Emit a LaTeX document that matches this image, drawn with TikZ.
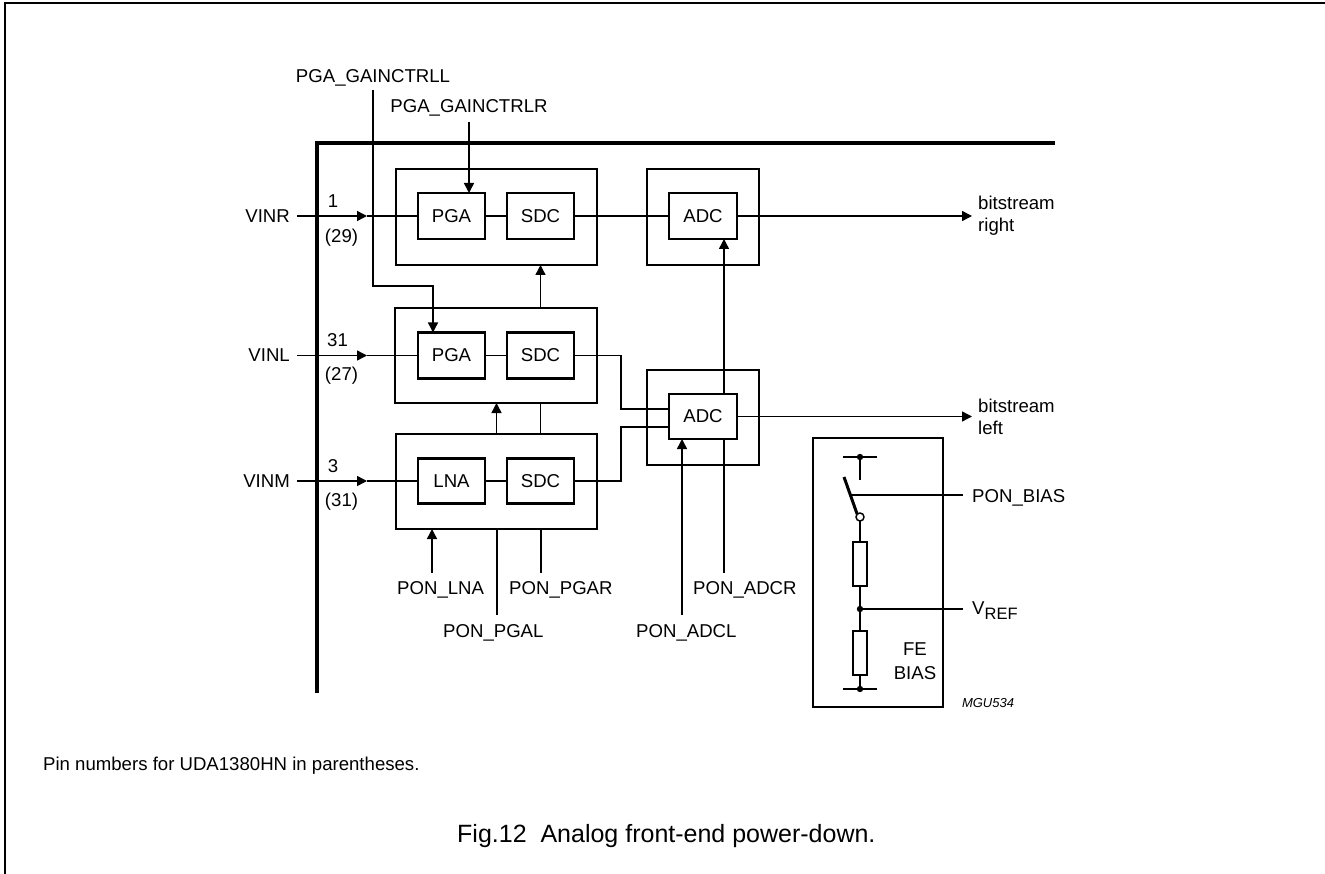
\documentclass[tikz,border=0pt]{standalone}
\usepackage{fontspec}
\setmainfont{Liberation Sans}
\usetikzlibrary{arrows.meta,calc}
\newcommand\lblfont{\fontsize{18.6}{22}\selectfont}
\tikzset{
 sig/.style={line width=1.45pt},
 arr/.style={-{Triangle[length=10pt,width=10pt]}},
 blk/.style={draw,line width=2.5pt,inner sep=0pt,outer sep=0pt,minimum width=67pt,minimum height=46pt,font=\lblfont,fill=white},
 grp/.style={draw,line width=2.5pt,inner sep=0pt,outer sep=0pt},
 lbl/.style={inner sep=0pt,font=\lblfont},
 res/.style={draw,line width=1.45pt,minimum width=14pt,minimum height=44pt,inner sep=0pt,outer sep=0pt},
}
\begin{document}
\begin{tikzpicture}[x=1pt,y=-1pt]
\useasboundingbox (0,0) rectangle (1325,874);
% page frame
\draw[line width=2pt] (5,874) -- (5,3) -- (1325,3);
% chip outline
\draw[line width=3.2pt] (317,693) -- (317,143) -- (1055,143);
% group boxes
\node[grp,minimum width=201pt,minimum height=96pt] (grpR) at (496.5,217) {};
\node[grp,minimum width=202pt,minimum height=95pt] (grpL) at (496,355.5) {};
\node[grp,minimum width=201pt,minimum height=95pt] (grpM) at (496.5,481.5) {};
\node[grp,minimum width=112pt,minimum height=96pt] (adcRo) at (703,217) {};
\node[grp,minimum width=112pt,minimum height=95pt] (adcLo) at (703,417.5) {};
\node[grp,minimum width=130pt,minimum height=269pt] (fe) at (878,572.5) {};
% blocks
\node[blk] (pgaR) at (451.5,216) {PGA};
\node[blk] (sdcR) at (540.5,216) {SDC};
\node[blk,minimum width=68pt] (adcR) at (703,216) {ADC};
\node[blk] (pgaL) at (451.5,355.5) {PGA};
\node[blk] (sdcL) at (540.5,355.5) {SDC};
\node[blk,minimum height=45pt] (lna) at (451.5,481) {LNA};
\node[blk,minimum height=45pt] (sdcM) at (540.5,481) {SDC};
\node[blk,minimum width=68pt,minimum height=45pt] (adcL) at (703,416.5) {ADC};
% inputs
\node[lbl,anchor=base east] (vinr) at (290,223) {VINR};
\node[lbl,anchor=base east] (vinl) at (290,362) {VINL};
\node[lbl,anchor=base east] (vinm) at (290,487) {VINM};
\node[lbl,anchor=base] (n1) at (333,208) {1};
\node[lbl,anchor=base] (n29) at (341.5,243) {(29)};
\node[lbl,anchor=base] (n31) at (337.5,347) {31};
\node[lbl,anchor=base] (n27) at (341.5,381) {(27)};
\node[lbl,anchor=base] (n3) at (333,472) {3};
\node[lbl,anchor=base] (n31b) at (341.5,506) {(31)};
\coordinate (aR) at (367,216);
\coordinate (aL) at (367,355.5);
\coordinate (aM) at (367,481);
\draw[sig,arr,shorten <=7pt] (vinr.east |- aR) -- (aR);
\draw[sig] (aR) -- (pgaR.west);
\draw[sig,arr,shorten <=7pt] (vinl.east |- aL) -- (aL);
\draw[sig] (aL) -- (pgaL.west);
\draw[sig,arr,shorten <=7pt] (vinm.east |- aM) -- (aM);
\draw[sig] (aM) -- (lna.west);
% internal chains
\draw[sig] (pgaR) -- (sdcR);
\draw[sig] (sdcR) -- (adcR);
\draw[sig] (pgaL) -- (sdcL);
\draw[sig] (lna) -- (sdcM);
% gain controls
\node[lbl,anchor=base] (gcl) at (373,83) {PGA\_GAINCTRLL};
\node[lbl,anchor=base] (gcr) at (469,113) {PGA\_GAINCTRLR};
\coordinate (gclBend) at (373,286);
\coordinate (gclDrop) at (433,286);
\draw[sig,arr,shorten <=3pt] (gcl.south) -- (gclBend) -- (gclDrop) -- (gclDrop |- pgaL.north);
\draw[sig,arr,shorten <=5pt] (gcr.south) -- (gcr.south |- pgaR.north);
% between groups
\draw[sig,arr] (sdcL.north |- grpL.north) -- (sdcL.north |- grpR.south);
\draw[sig,arr] (grpM.north) -- (grpM.north |- grpL.south);
\draw[sig] (sdcM.north |- grpM.north) -- (sdcM.north |- grpL.south);
% SDC to lower ADC
\coordinate (jL) at (621,409);
\coordinate (jM) at (621,427);
\draw[sig] (sdcL.east) -| (jL) -- (jL -| adcL.west);
\draw[sig] (sdcM.east) -| (jM) -- (jM -| adcL.west);
% power-down inputs
\node[lbl,anchor=base west] (plna) at (397,594) {PON\_LNA};
\node[lbl,anchor=base west] (ppgar) at (509,594) {PON\_PGAR};
\node[lbl,anchor=base west] (ppgal) at (443,637) {PON\_PGAL};
\node[lbl,anchor=base west] (padcl) at (636,637) {PON\_ADCL};
\node[lbl,anchor=base west] (padcr) at (693,594) {PON\_ADCR};
\coordinate (lnaIn) at (432,573);
\coordinate (pgalEnd) at (497,615);
\coordinate (pgarEnd) at (541,573);
\coordinate (adclIn) at (682,615);
\coordinate (adcrIn) at (724,573);
\draw[sig,arr] (lnaIn) -- (lnaIn |- grpM.south);
\draw[sig] (pgalEnd |- grpM.south) -- (pgalEnd);
\draw[sig] (pgarEnd |- grpM.south) -- (pgarEnd);
\draw[sig,arr] (adclIn) -- (adclIn |- adcL.south);
\draw[sig] (adcrIn) -- (adcrIn |- adcL.south);
\draw[sig,arr] (adcrIn |- adcL.north) -- (adcrIn |- adcR.south);
% outputs
\node[lbl,anchor=west,align=left] (brt) at (978,216) {bitstream\\right};
\node[lbl,anchor=west,align=left] (blt) at (978,416.5) {bitstream\\left};
\draw[sig,arr,shorten >=6pt] (adcR.east) -- (adcR.east -| brt.west);
\draw[sig,arr,shorten >=6pt] (adcL.east) -- (adcL.east -| blt.west);
% FE bias
\coordinate (tTop) at (860,457);
\coordinate (tStub) at (860,480);
\draw[sig] (843,457) -- (877,457);
\fill (tTop) circle (3.2pt);
\draw[sig] (tTop) -- (tStub);
\node[circle,draw,fill=white,line width=1.45pt,minimum size=8pt,inner sep=0pt,outer sep=0pt] (sw) at (860,517) {};
\draw[line width=3pt] (844,477) -- (sw.north west);
\node[res] (r1) at (860,564) {};
\node[res] (r2) at (860,653) {};
\coordinate (vdot) at (860,609);
\coordinate (gnd) at (860,689);
\draw[sig] (sw) -- (r1.north);
\draw[sig] (r1.south) -- (r2.north);
\fill (vdot) circle (3.2pt);
\draw[sig] (r2.south) -- (gnd);
\draw[sig] (843,689) -- (877,689);
\fill (gnd) circle (3.2pt);
\node[lbl,anchor=base west] (pb) at (972,502) {PON\_BIAS};
\node[lbl,anchor=base west] (vref) at (972,614) {V\raisebox{-5pt}{\fontsize{16.5}{18}\selectfont REF}};
\coordinate (bm) at (851,495);
\draw[sig,shorten >=9pt] (bm) -- (bm -| pb.west);
\draw[sig,shorten >=9pt] (vdot) -- (vdot -| vref.west);
\node[lbl,anchor=base] (fe1) at (915,655) {FE};
\node[lbl,anchor=base] (fe2) at (915,679) {BIAS};
\node[anchor=base,inner sep=0pt,font=\fontsize{13}{15}\selectfont\itshape] (mgu) at (988,707) {MGU534};
% notes
\node[lbl,anchor=base west] (note) at (43,770) {Pin numbers for UDA1380HN in parentheses.};
\node[anchor=base west,inner sep=0pt,font=\fontsize{25}{30}\selectfont] (cap) at (457,842) {Fig.12\ \ Analog front-end power-down.};
\end{tikzpicture}
\end{document}
